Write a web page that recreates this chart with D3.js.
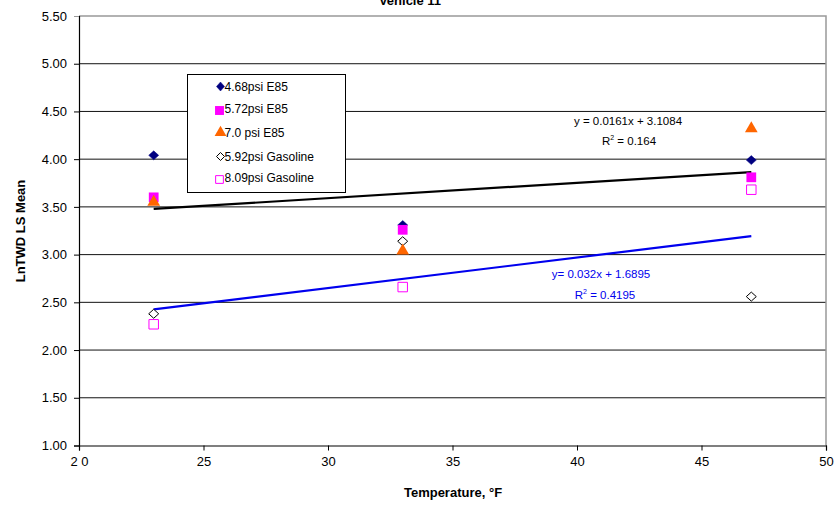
<!DOCTYPE html>
<html><head><meta charset="utf-8">
<script src="https://cdn.jsdelivr.net/npm/d3@7"></script>
<style>body{margin:0;background:#fff}svg{display:block;font-family:Arial,"Liberation Sans",sans-serif}</style>
</head><body>
<svg id="c" width="837" height="506"></svg>
<script>
const temps = [23, 33, 47];
const seriesNames = ["4.68psi E85", "5.72psi E85", "7.0 psi E85", "5.92psi Gasoline", "8.09psi Gasoline"];
const s468E85 = [4.04, 3.31, 3.99];
const s572E85 = [3.60, 3.26, 3.81];
const s70E85 = [3.55, 3.04, 4.32];
const s592Gas = [2.38, 3.14, 2.56];
const s809Gas = [2.27, 2.66, 3.68];
const xTicks = [20, 25, 30, 35, 40, 45, 50];
const yTicks = [1.0, 1.5, 2.0, 2.5, 3.0, 3.5, 4.0, 4.5, 5.0, 5.5];
const trendE85 = {slope: 0.0161, intercept: 3.1084, r2: "0.164", label: "y = 0.0161x + 3.1084"};
const trendGas = {slope: 0.032, intercept: 1.6895, r2: "0.4195", label: "y=  0.032x + 1.6895"};
const trendRange = [23, 47];

const svg = d3.select("#c");
const x = d3.scaleLinear().domain([20, 50]).range([79, 826]);
const y = d3.scaleLinear().domain([1, 5.5]).range([445.5, 16]);

// gridlines
svg.append("g").selectAll("line").data(yTicks.filter(d => d > 1 && d < 5.5)).join("line")
  .attr("x1", x(20)).attr("x2", x(50)).attr("y1", d => y(d)).attr("y2", d => y(d))
  .attr("stroke", "#111").attr("stroke-width", 1);
// plot border top/right
svg.append("path").attr("d", `M${x(20)},${y(5.5)}H${x(50)}V${y(1)}`)
  .attr("fill", "none").attr("stroke", "#999").attr("stroke-width", 1.5);

// axes
const xAxis = d3.axisBottom(x).tickValues(xTicks).tickFormat(d => d === 20 ? "2 0" : d).tickSize(5).tickPadding(6);
const gx = svg.append("g").attr("transform", `translate(0,${y(1)})`).call(xAxis);
const yAxis = d3.axisLeft(y).tickValues(yTicks).tickFormat(d3.format(".2f")).tickSize(5).tickPadding(7);
const gy = svg.append("g").attr("transform", `translate(${x(20)},0)`).call(yAxis);
[gx, gy].forEach(g => {
  g.select(".domain").attr("stroke", "#000").attr("stroke-width", 1.2);
  g.selectAll(".tick line").attr("stroke", "#000");
  g.selectAll(".tick text").attr("font-size", 13).attr("fill", "#000").attr("font-family", "Arial, Liberation Sans, sans-serif");
});
gy.select(".tick:last-of-type line").attr("stroke", "#999");

// trend lines
function trend(t, color) {
  svg.append("line")
    .attr("x1", x(trendRange[0])).attr("y1", y(t.slope * trendRange[0] + t.intercept))
    .attr("x2", x(trendRange[1])).attr("y2", y(t.slope * trendRange[1] + t.intercept))
    .attr("stroke", color).attr("stroke-width", 2.2);
}
trend(trendE85, "#000");
trend(trendGas, "#0000ee");

// markers
const diamond = (w, h) => () => `M0,${-h/2}L${w/2},0L0,${h/2}L${-w/2},0Z`;
const sym = {
  diamond: diamond(10, 9),
  square: d3.symbol().type(d3.symbolSquare).size(95),
  triangle: d3.symbol().type(d3.symbolTriangle).size(70),
  odiamond: diamond(10, 9),
  osquare: d3.symbol().type(d3.symbolSquare).size(90)
};
const styles = [
  {vals: s468E85, path: sym.diamond, fill: "#000080", stroke: "#000080", sw: 0.5},
  {vals: s572E85, path: sym.square, fill: "#ff00ff", stroke: "#ff00ff", sw: 0},
  {vals: s70E85, path: sym.triangle, fill: "#ff6600", stroke: "#ff6600", sw: 0},
  {vals: s592Gas, path: sym.odiamond, fill: "#fff", stroke: "#000", sw: 1},
  {vals: s809Gas, path: sym.osquare, fill: "#fff", stroke: "#ff00ff", sw: 1}
];
[4, 3, 0, 1, 2].forEach(i => {
  const st = styles[i];
  svg.append("g").selectAll("path").data(st.vals).join("path")
    .attr("d", st.path)
    .attr("transform", (d, j) => `translate(${x(temps[j])},${y(d)})`)
    .attr("fill", st.fill).attr("stroke", st.stroke).attr("stroke-width", st.sw);
});

// legend
const lg = svg.append("g").attr("transform", "translate(187.5,74.5)");
lg.append("rect").attr("width", 158).attr("height", 118).attr("fill", "#fff").attr("stroke", "#000").attr("stroke-width", 1);
const legY = [12, 34, 58, 82, 103];
const legSym = [
  diamond(8, 9),
  d3.symbol().type(d3.symbolSquare).size(80),
  d3.symbol().type(d3.symbolTriangle).size(60),
  diamond(8, 8),
  d3.symbol().type(d3.symbolSquare).size(60)
];
seriesNames.forEach((n, i) => {
  const st = styles[i];
  lg.append("path").attr("d", legSym[i]).attr("transform", `translate(${i === 1 || i === 4 ? 32 : 33},${legY[i] + (i === 1 || i === 4 ? 2 : 0)})`)
    .attr("fill", st.fill).attr("stroke", st.stroke).attr("stroke-width", st.sw);
  lg.append("text").attr("x", 37).attr("y", legY[i] + 4.5).attr("font-size", 12).text(n);
});

// trend annotations
svg.append("text").attr("x", 628).attr("y", 125).attr("text-anchor", "middle").attr("font-size", 11.5).text(trendE85.label);
const r1 = svg.append("text").attr("x", 629).attr("y", 145).attr("text-anchor", "middle").attr("font-size", 11.5);
r1.append("tspan").text("R");
r1.append("tspan").attr("dy", -5).attr("font-size", 7).text("2");
r1.append("tspan").attr("dy", 5).text(" = " + trendE85.r2);

svg.append("text").attr("x", 601).attr("y", 278).attr("text-anchor", "middle").attr("font-size", 11.5).attr("fill", "#0000ee").text(trendGas.label);
const r2 = svg.append("text").attr("x", 605).attr("y", 299).attr("text-anchor", "middle").attr("font-size", 11.5).attr("fill", "#0000ee");
r2.append("tspan").text("R");
r2.append("tspan").attr("dy", -5).attr("font-size", 7).text("2");
r2.append("tspan").attr("dy", 5).text("  = " + trendGas.r2);

// titles
svg.append("text").attr("x", 410).attr("y", 5).attr("text-anchor", "middle").attr("font-size", 13).attr("font-weight", "bold").text("Vehicle 11");
svg.append("text").attr("x", 453).attr("y", 497).attr("text-anchor", "middle").attr("font-size", 13).attr("font-weight", "bold").text("Temperature, °F");
svg.append("text").attr("transform", "translate(25,231) rotate(-90)").attr("text-anchor", "middle").attr("font-size", 13).attr("font-weight", "bold").text("LnTWD LS Mean");
</script>
</body></html>
